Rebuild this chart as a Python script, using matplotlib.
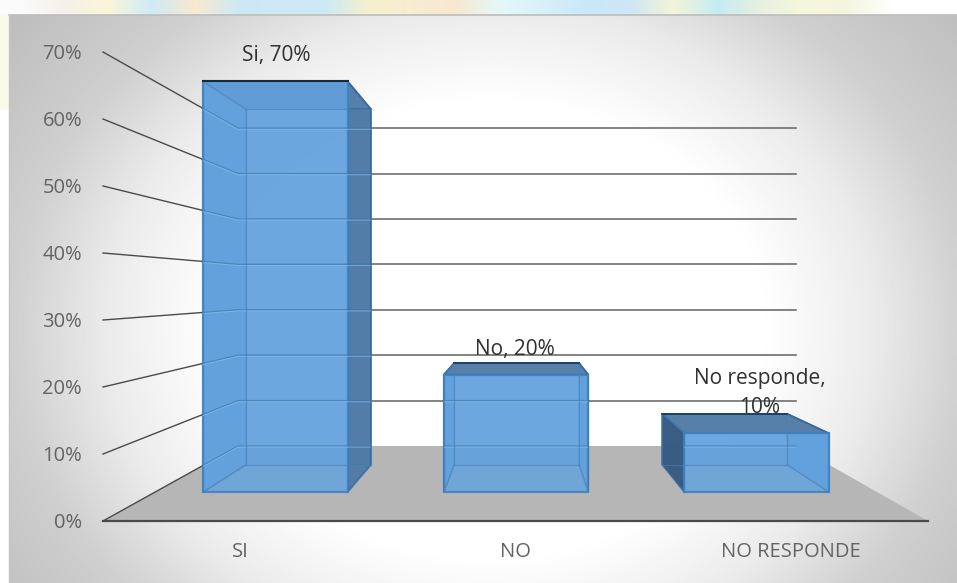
import numpy as np
import matplotlib
matplotlib.use('Agg')
import matplotlib.pyplot as plt
from matplotlib.colors import LinearSegmentedColormap
from matplotlib.patches import Polygon

plt.rcParams['font.family'] = ['Open Sans', 'DejaVu Sans']

categorias = ['SI', 'NO', 'NO RESPONDE']
valores = [0.70, 0.20, 0.10]
etiquetas = ['Si, 70%', 'No, 20%', 'No responde,\n10%']
ticks = [0, 0.1, 0.2, 0.3, 0.4, 0.5, 0.6, 0.7]
tick_labels = ['0%', '10%', '20%', '30%', '40%', '50%', '60%', '70%']

# piso de la grafica en pixeles: frente y fondo
X_FRENTE = (103, 928)
X_FONDO = (238, 796)
Y_FRENTE = 521
Y_FONDO = 446
ESC_FRENTE = 670
ESC_FONDO = 454
D_CERCA = 0.387
D_LEJOS = 0.75
ANCHO = 0.2


def proy(u, v, d):
    '''u: horizontal 0-1, v: valor, d: profundidad 0-1'''
    x0 = X_FRENTE[0] + (X_FONDO[0] - X_FRENTE[0]) * d
    x1 = X_FRENTE[1] + (X_FONDO[1] - X_FRENTE[1]) * d
    y0 = Y_FRENTE + (Y_FONDO - Y_FRENTE) * d
    esc = ESC_FRENTE + (ESC_FONDO - ESC_FRENTE) * d
    return x0 + (x1 - x0) * u, y0 - esc * v


def cara(ax, puntos, color, alpha=1.0, z=3, borde='#3f78ad', lw=1.2):
    ax.fill([p[0] for p in puntos], [p[1] for p in puntos], facecolor=color,
            edgecolor=borde, linewidth=lw, alpha=alpha, zorder=z)


def lineas_en_cara(ax, puntos, z):
    # la cuadricula se ve a traves de la barra, recortada a la cara
    recorte = Polygon(puntos, closed=True, transform=ax.transData)
    for t in ticks:
        a = proy(0, t, 0)
        b = proy(0, t, 1)
        c = proy(1, t, 1)
        for col, dy, ancho in (('#3c74a8', 0, 1.0), ('#8cc0ee', 1.1, 0.8)):
            ln, = ax.plot([a[0], b[0], c[0]], [a[1] + dy, b[1] + dy, c[1] + dy], color=col,
                          lw=ancho, zorder=z, alpha=0.6)
            ln.set_clip_path(recorte)


fig = plt.figure(figsize=(9.57, 5.83), dpi=100)
ax = fig.add_axes([0, 0, 1, 1])
ax.set_xlim(0, 957)
ax.set_ylim(583, 0)
ax.axis('off')

# fondo de la pagina, acuarela clara
franja = ['#fbfbfb', '#f4f1ea', '#fbf6d8', '#cfeaf6', '#f9e9cf', '#cde9f6', '#cfe8f5', '#cdeaf5',
          '#f6f0cc', '#f9ecd2', '#f8e8d0', '#e4f8f8', '#d8f0f8', '#c8e8fa', '#cfe6f6', '#f4f4d8',
          '#c4ecf4', '#e8f0e0', '#f6f8dc', '#f4f5e0', '#ffffff', '#ffffff']
franja = np.array([matplotlib.colors.to_rgb(c) for c in franja])
ax.imshow(franja[None, :, :], extent=(0, 957, 15, 0), aspect='auto', zorder=0, interpolation='bilinear')
ax.fill_between([0, 9], 15, 110, color='#fafae8', zorder=0.5, linewidth=0)

# panel con degradado radial
xx, yy = np.meshgrid(np.linspace(9, 957, 240), np.linspace(15, 583, 150))
r = np.sqrt(((xx - 490) / 480) ** 2 + ((yy - 330) / 400) ** 2)
cmap = LinearSegmentedColormap.from_list('panel', [(0, '#ffffff'), (0.58 / 1.3, '#ffffff'), (0.8 / 1.3, '#ececec'),
                                                   (1.0 / 1.3, '#d0d0d0'), (1, '#bcbcbc')])
ax.imshow(np.clip(r / 1.3, 0, 1), extent=(9, 957, 583, 15), cmap=cmap, vmin=0, vmax=1,
          aspect='auto', zorder=1, interpolation='bilinear')
ax.plot([9, 957], [15, 15], color='#bdbdbd', lw=1.2, zorder=1.2)
ax.plot([9, 9], [15, 583], color='#c4c4c4', lw=1, zorder=1.2)
ax.set_xlim(0, 957)
ax.set_ylim(583, 0)

# piso
piso = [proy(0, 0, 0), proy(1, 0, 0), proy(1, 0, 1), proy(0, 0, 1)]
ax.fill([p[0] for p in piso], [p[1] for p in piso], color='#b6b6b6', zorder=1.5, linewidth=0)

# lineas de la cuadricula: pared izquierda y fondo
for t in ticks:
    a = proy(0, t, 0)
    b = proy(0, t, 1)
    c = proy(1, t, 1)
    ax.plot([a[0], b[0]], [a[1], b[1]], color='#4a4a4a', lw=1.0, zorder=2)
    if t > 0:
        ax.plot([b[0], c[0]], [b[1], c[1]], color='#6e6e6e', lw=1.2, zorder=2)

ax.plot([piso[0][0], piso[1][0]], [piso[0][1], piso[1][1]], color='#4a4a4a', lw=1.6, zorder=2.5)

# barras
for i, v in enumerate(valores):
    u0 = (i + 0.5) / 3 - ANCHO / 2
    u1 = u0 + ANCHO
    n0 = proy(u0, 0, D_CERCA)
    n1 = proy(u1, 0, D_CERCA)
    n2 = proy(u1, v, D_CERCA)
    n3 = proy(u0, v, D_CERCA)
    f0 = proy(u0, 0, D_LEJOS)
    f1 = proy(u1, 0, D_LEJOS)
    f2 = proy(u1, v, D_LEJOS)
    f3 = proy(u0, v, D_LEJOS)
    # la cara lateral que sobresale va oscura
    oscura_der = f1[0] > n1[0]
    oscura_izq = f0[0] < n0[0]
    cara(ax, [f0, f1, f2, f3], '#5b9bd5', alpha=0.6, z=3.0)
    cara(ax, [f1, n1, n2, f2], '#4d79a5' if oscura_der else '#5b9bd5', alpha=0.95, z=3.1, borde='#35689a')
    cara(ax, [f0, n0, n3, f3], '#34587f' if oscura_izq else '#5b9bd5', alpha=0.95, z=3.1, borde='#2c5580')
    cara(ax, [n3, n2, f2, f3], '#5680aa', alpha=1.0, z=3.2, borde='#35689a')
    cara(ax, [n0, n1, n2, n3], '#64a2de', alpha=0.85, z=3.3, borde='#3d80c0', lw=1.6)
    # aristas interiores que se transparentan
    for p, q in ((f0, f3), (f1, f2), (f3, f2), (f0, f1), (n0, f0), (n3, f3), (n1, f1)):
        ax.plot([p[0], q[0]], [p[1], q[1]], color='#4a82b8', lw=0.8, zorder=3.4, alpha=0.6)
    lineas_en_cara(ax, [n0, n1, n2, n3], 3.35)
    if oscura_der:
        lineas_en_cara(ax, [f1, n1, n2, f2], 3.35)
    # la arista superior mas alta va casi negra
    if n3[1] < f3[1]:
        ax.plot([n3[0], n2[0]], [n3[1], n2[1]], color='#14283c', lw=1.4, zorder=3.5)
    else:
        ax.plot([f3[0], f2[0]], [f3[1], f2[1]], color='#1d3c5c', lw=1.3, zorder=3.5)

# textos
for t, lab in zip(ticks, tick_labels):
    ax.text(82, proy(0, t, 0)[1] + 2, lab, ha='right', va='center', fontsize=14.5, color='#636363', zorder=5)
for i, cat in enumerate(categorias):
    ax.text(proy((i + 0.5) / 3, 0, 0)[0], 552, cat, ha='center', va='center', fontsize=14.5,
            color='#636363', zorder=5)

pos_etiq = [(276, 55), (515, 349), (760, 393)]
for (px, py), lab in zip(pos_etiq, etiquetas):
    ax.text(px, py, lab, ha='center', va='center', fontsize=15, color='#303030', zorder=5,
            linespacing=1.55)

fig.savefig('out.png', dpi=100)
